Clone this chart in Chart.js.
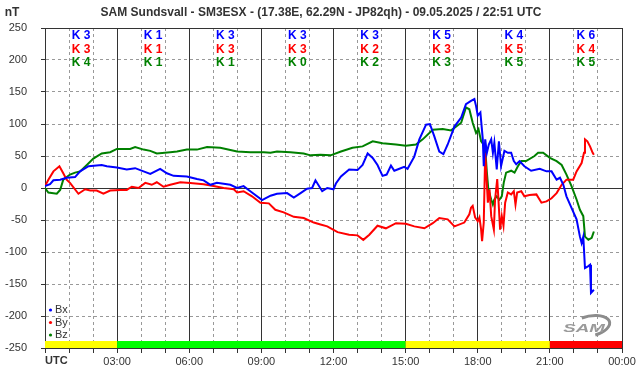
<!DOCTYPE html>
<html>
<head>
<meta charset="utf-8">
<script src="https://cdn.jsdelivr.net/npm/chart.js@4"></script>
<style>
  html, body { margin: 0; padding: 0; background: #fff; }
</style>
</head>
<body>
<canvas id="magChart" width="642" height="376"></canvas>
<script>
const titleText = 'SAM Sundsvall - SM3ESX - (17.38E, 62.29N - JP82qh) - 09.05.2025 / 22:51 UTC';

// Bx (blue)
const bxHours = [0.00,0.21,0.35,0.63,0.90,1.25,1.46,1.81,2.36,2.57,2.99,3.40,3.75,4.10,4.38,4.79,5.07,5.35,5.90,6.32,6.60,6.88,7.15,7.71,7.99,8.26,8.54,9.03,9.38,9.65,10.07,10.35,10.63,10.90,11.11,11.25,11.53,11.74,12.00,12.10,12.31,12.65,13.00,13.21,13.42,13.63,13.83,14.04,14.21,14.39,14.53,14.74,14.94,15.08,15.36,15.57,15.85,16.01,16.19,16.40,16.57,16.75,17.03,17.31,17.51,17.72,17.86,17.93,18.00,18.11,18.21,18.25,18.31,18.38,18.46,18.56,18.63,18.69,18.79,18.88,18.97,19.11,19.25,19.39,19.50,19.60,19.74,19.94,20.22,20.58,20.86,21.07,21.28,21.42,21.56,21.69,21.90,22.11,22.25,22.32,22.39,22.46,22.60,22.67,22.71,22.83];
const bxValues = [3,6,12,13,16,17,26,34,36,34,32,29,31,26,22,30,23,19,18,14,12,5,8,5,0,3,-5,-19,-12,-9,-8,-15,-8,-1,0,12,-5,0,-2,7,18,29,28,36,54,47,36,19,21,35,27,30,33,30,49,76,99,100,81,57,53,68,96,110,131,136,139,128,113,118,76,34,76,55,68,76,55,71,29,73,34,58,55,55,42,37,42,34,27,30,26,26,13,16,5,-13,-31,-49,-76,-86,-76,-125,-122,-120,-164,-159];

// By (red)
const byHours = [0.00,0.14,0.35,0.60,0.76,0.90,1.04,1.39,1.67,1.88,2.15,2.43,2.71,3.13,3.40,3.61,3.89,4.17,4.44,4.65,4.93,5.21,5.63,6.04,6.60,7.01,7.43,7.85,7.99,8.26,8.61,8.96,9.31,9.58,9.93,10.35,10.76,11.18,11.46,11.74,12.17,12.65,13.00,13.24,13.49,13.83,14.18,14.60,15.01,15.36,15.78,16.13,16.40,16.75,17.03,17.44,17.65,17.72,17.79,17.89,18.00,18.07,18.14,18.18,18.25,18.31,18.42,18.49,18.56,18.67,18.72,18.81,18.86,18.93,19.00,19.07,19.14,19.25,19.39,19.50,19.57,19.64,19.81,19.94,20.15,20.44,20.65,20.86,21.07,21.28,21.49,21.69,21.97,22.11,22.32,22.42,22.46,22.56,22.67,22.78,22.83];
const byValues = [3,13,26,34,23,13,8,-9,-2,-4,-4,-9,-4,-3,-3,2,0,8,5,9,2,5,9,8,6,3,0,-2,-7,-5,-13,-23,-24,-34,-38,-45,-47,-54,-57,-60,-69,-73,-74,-81,-73,-59,-63,-55,-56,-60,-63,-55,-47,-49,-60,-54,-41,-31,-28,-46,-52,-46,-65,-83,-54,55,-23,-2,-44,-65,-18,14,-18,-65,-44,-59,-23,-7,-10,-5,-26,-7,-5,-13,-11,-10,-23,-21,-16,-8,5,13,13,26,39,55,76,73,65,55,52];

// Bz (green)
const bzHours = [0.00,0.14,0.49,0.63,0.76,1.04,1.25,1.46,1.74,2.01,2.36,2.71,2.99,3.54,3.75,4.10,4.38,4.65,5.21,5.49,5.90,6.32,6.74,7.29,7.99,8.54,9.10,9.38,9.65,10.21,10.76,11.04,11.46,11.88,12.31,12.79,13.21,13.63,14.04,14.60,15.01,15.43,15.71,16.13,16.54,16.89,17.31,17.51,17.65,17.79,17.93,18.03,18.14,18.24,18.31,18.38,18.44,18.56,18.63,18.69,18.79,18.90,19.00,19.08,19.18,19.39,19.53,19.67,19.81,20.01,20.36,20.51,20.72,21.00,21.28,21.49,21.69,21.90,22.11,22.25,22.39,22.46,22.60,22.74,22.83];
const bzValues = [0,-7,-9,-3,13,21,24,26,36,46,54,56,61,61,64,60,58,54,56,57,60,60,64,63,57,56,56,55,57,56,54,51,52,51,57,63,65,73,70,68,66,68,76,91,92,90,102,126,123,102,86,92,73,68,63,24,-2,-18,-26,-18,-13,-18,-13,8,24,27,24,34,42,42,50,55,55,47,42,36,21,3,-18,-34,-44,-76,-81,-78,-68];

// K indices per 3 hour block
const kBlockCenters = [1.5, 4.5, 7.5, 10.5, 13.5, 16.5, 19.5, 22.5];
const kx = [3, 1, 3, 3, 3, 5, 4, 6];
const ky = [3, 1, 3, 3, 2, 3, 5, 4];
const kz = [4, 1, 1, 0, 2, 3, 5, 5];

// activity bar along the bottom
const statusStart = [0, 3, 15, 21];
const statusEnd = [3, 15, 21, 24];
const statusColors = ['#ffff00', '#00ff00', '#ffff00', '#ff0000'];

const seriesNames = ['Bx', 'By', 'Bz'];
const seriesColors = ['#0000ff', '#ff0000', '#008000'];

const toPoints = (hours, values) => hours.map((h, i) => ({ x: h, y: values[i] }));

const fontFamily = '"Liberation Sans", Arial, sans-serif';

const decorations = {
    id: 'decorations',
    beforeDatasetsDraw(chart) {
        const { ctx, chartArea, scales: { x } } = chart;
        ctx.save();
        statusStart.forEach((s, i) => {
            const x0 = x.getPixelForValue(s);
            const x1 = x.getPixelForValue(statusEnd[i]);
            ctx.fillStyle = statusColors[i];
            ctx.fillRect(x0, chartArea.bottom - 7, x1 - x0, 7);
        });

        // SAM logo, sits behind the traces
        const lx = chartArea.right - 38, ly = chartArea.bottom - 19;
        ctx.strokeStyle = '#8c8c8c';
        ctx.lineWidth = 3;
        ctx.beginPath();
        ctx.ellipse(lx + 6, ly - 3, 20, 10, -0.2, -1.9, 1.4);
        ctx.stroke();
        ctx.translate(lx, ly);
        ctx.scale(1.7, 1);
        ctx.fillStyle = '#9a9a9a';
        ctx.font = 'italic bold 11px ' + fontFamily;
        ctx.textAlign = 'center';
        ctx.textBaseline = 'middle';
        ctx.fillText('SAM', 0, 0);
        ctx.restore();
    },
    afterDraw(chart) {
        const { ctx, chartArea, scales: { x } } = chart;
        ctx.save();

        // title and unit
        ctx.fillStyle = '#333';
        ctx.textBaseline = 'middle';
        ctx.font = 'bold 12px ' + fontFamily;
        ctx.textAlign = 'center';
        ctx.fillText(titleText, chart.width / 2, 13);
        ctx.fillText('nT', 12, 13);

        // UTC label at the left end of the time axis
        ctx.textAlign = 'left';
        ctx.font = 'bold 11px ' + fontFamily;
        ctx.fillText('UTC', chartArea.left, chartArea.bottom + 13);

        // K indices
        ctx.font = 'bold 12px ' + fontFamily;
        ctx.textAlign = 'center';
        const rows = [kx, ky, kz];
        kBlockCenters.forEach((c, i) => {
            const px = x.getPixelForValue(c);
            rows.forEach((row, r) => {
                ctx.fillStyle = seriesColors[r];
                ctx.fillText('K ' + row[i], px, chartArea.top + 8 + r * 13.5);
            });
        });

        // legend
        ctx.font = '11px ' + fontFamily;
        ctx.textAlign = 'left';
        seriesNames.forEach((name, i) => {
            const yy = chartArea.bottom - 38 + i * 12.5;
            ctx.fillStyle = seriesColors[i];
            ctx.beginPath();
            ctx.arc(chartArea.left + 5.5, yy, 1.6, 0, Math.PI * 2);
            ctx.fill();
            ctx.fillStyle = '#333';
            ctx.fillText(name, chartArea.left + 10, yy);
        });

        ctx.restore();
    }
};

const isMajorX = v => v % 3 === 0;
const isMajorY = v => v === 0 || Math.abs(v) === 250;

new Chart(document.getElementById('magChart').getContext('2d'), {
    type: 'line',
    data: {
        datasets: [
            { label: 'Bx', data: toPoints(bxHours, bxValues), borderColor: seriesColors[0] },
            { label: 'By', data: toPoints(byHours, byValues), borderColor: seriesColors[1] },
            { label: 'Bz', data: toPoints(bzHours, bzValues), borderColor: seriesColors[2] }
        ]
    },
    options: {
        responsive: false,
        animation: false,
        devicePixelRatio: 1,
        layout: { padding: { top: 28, right: 20, left: 0, bottom: 0 } },
        elements: {
            line: { borderWidth: 2, tension: 0, fill: false },
            point: { radius: 0 }
        },
        plugins: {
            legend: { display: false },
            title: { display: false },
            tooltip: { enabled: false }
        },
        scales: {
            x: {
                type: 'linear',
                min: 0,
                max: 24,
                afterFit: scale => { scale.height = 28; },
                ticks: {
                    stepSize: 1,
                    autoSkip: false,
                    maxRotation: 0,
                    padding: 2,
                    color: '#333',
                    font: { family: fontFamily, size: 11 },
                    callback: v => (v % 3 === 0 && v !== 0) ? String(v % 24).padStart(2, '0') + ':00' : ''
                },
                grid: {
                    color: ctx => isMajorX(ctx.tick.value) ? '#333' : '#999',
                    lineWidth: 1,
                    tickLength: 5,
                    tickColor: '#333',
                    tickBorderDash: []
                },
                border: {
                    color: '#333',
                    dash: ctx => (ctx.tick && !isMajorX(ctx.tick.value)) ? [3, 3] : []
                }
            },
            y: {
                min: -250,
                max: 250,
                afterFit: scale => { scale.width = 45; },
                ticks: {
                    stepSize: 50,
                    padding: 14,
                    color: '#333',
                    font: { family: fontFamily, size: 11 }
                },
                grid: {
                    color: ctx => isMajorY(ctx.tick.value) ? '#333' : '#999',
                    lineWidth: 1,
                    tickLength: 4,
                    tickColor: '#333',
                    tickBorderDash: []
                },
                border: {
                    color: '#333',
                    dash: ctx => (ctx.tick && !isMajorY(ctx.tick.value)) ? [3, 3] : []
                }
            }
        }
    },
    plugins: [decorations]
});
</script>
</body>
</html>
